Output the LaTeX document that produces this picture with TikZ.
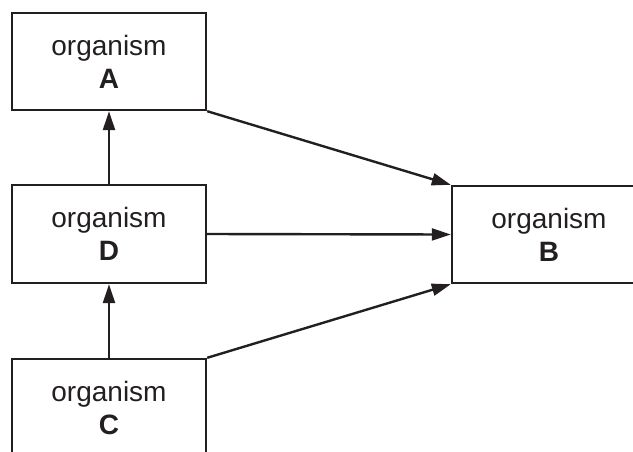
\documentclass[tikz,border=0pt]{standalone}
\usepackage{fontspec}
\setmainfont{Liberation Sans}
\usetikzlibrary{arrows.meta}
\definecolor{ink}{HTML}{231F20}
\begin{document}
\begin{tikzpicture}[x=1pt,y=-1pt,
  orgbox/.style={draw=ink,line width=2.4pt,minimum width=194pt,minimum height=97pt,inner sep=0pt,
    align=center,text=ink,font=\fontsize{28}{33}\selectfont},
  link/.style={draw=ink,line width=2.4pt,-{Triangle[length=19pt,width=12pt]},shorten >=0pt}]
\useasboundingbox (0,0) rectangle (633,451);
\clip (0,0) rectangle (633,451);
\node[orgbox] (A) at (109,61.5) {organism\\\textbf{A}};
\node[orgbox,minimum height=98pt] (D) at (109,234) {organism\\\textbf{D}};
\node[orgbox,minimum height=98pt] (C) at (109,408) {organism\\\textbf{C}};
\node[orgbox] (B) at (549,234.5) {organism\\\textbf{B}};
\draw[link] (D.north) -- (A.south);
\draw[link] (C.north) -- (D.south);
\draw[link] (A.south east) -- (B.north west);
\draw[link] (D.east) -- (B.west);
\draw[link] (C.north east) -- (B.south west);
\end{tikzpicture}
\end{document}
